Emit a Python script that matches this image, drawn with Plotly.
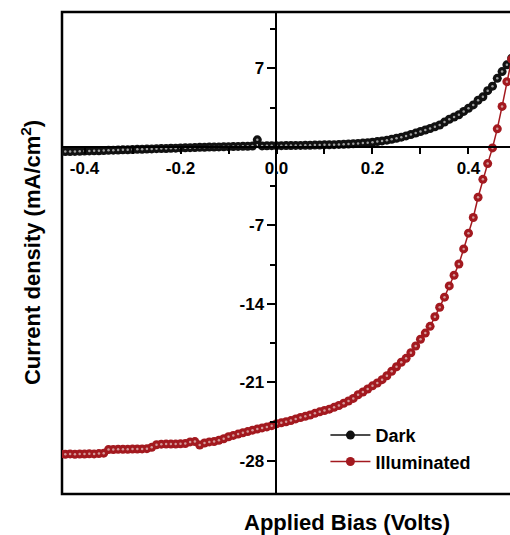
import plotly.graph_objects as go

# Applied bias (V), step 0.01 from -0.45 to 0.49
bias = [round(-0.45 + 0.01 * i, 2) for i in range(95)]

dark = [
    -0.44, -0.43, -0.42, -0.41, -0.40, -0.38, -0.37, -0.36, -0.35, -0.33,
    -0.32, -0.30, -0.29, -0.27, -0.26, -0.25, -0.23, -0.22, -0.20, -0.19,
    -0.17, -0.16, -0.15, -0.13, -0.12, -0.10, -0.09, -0.08, -0.06, -0.05,
    -0.04, -0.03, -0.02, -0.01, 0.00, 0.01, 0.02, 0.03, 0.04, 0.05,
    0.06, 0.62, 0.08, 0.09, 0.10, 0.10, 0.10, 0.11, 0.11, 0.12,
    0.12, 0.13, 0.14, 0.15, 0.16, 0.17, 0.18, 0.19, 0.21, 0.23,
    0.25, 0.27, 0.30, 0.33, 0.37, 0.41, 0.46, 0.52, 0.59, 0.67,
    0.76, 0.86, 0.97, 1.09, 1.22, 1.36, 1.50, 1.63, 1.78, 1.94,
    2.20, 2.45, 2.65, 2.85, 3.15, 3.43, 3.73, 4.15, 4.45, 5.00,
    5.40, 6.10, 6.70, 7.30, 7.90,
]

illuminated = [
    -27.38, -27.40, -27.37, -27.40, -27.38, -27.38, -27.36, -27.37, -27.34, -27.30,
    -26.98, -26.97, -26.96, -26.95, -26.96, -26.94, -26.93, -26.92, -26.90, -26.78,
    -26.55, -26.50, -26.49, -26.48, -26.49, -26.47, -26.45, -26.30, -26.27, -26.58,
    -26.40, -26.30, -26.26, -26.15, -26.02, -25.84, -25.72, -25.60, -25.48, -25.38,
    -25.25, -25.15, -25.05, -24.96, -24.85, -24.68, -24.60, -24.50, -24.40, -24.25,
    -24.12, -24.02, -23.90, -23.75, -23.62, -23.50, -23.38, -23.22, -23.05, -22.85,
    -22.65, -22.42, -22.10, -21.85, -21.58, -21.30, -21.05, -20.75, -20.40, -20.00,
    -19.60, -19.20, -18.85, -18.35, -17.75, -17.15, -16.60, -16.00, -15.15, -14.30,
    -13.40, -12.40, -11.45, -10.45, -9.10, -7.70, -6.30, -4.50, -2.90, -1.50,
    -0.10, 1.60, 3.60, 5.80, 7.80,
]

x_ticks = [-0.4, -0.2, 0.0, 0.2, 0.4]
x_labels = ["-0.4", "-0.2", "0.0", "0.2", "0.4"]
y_ticks = [7, -7, -14, -21, -28]
y_labels = ["7", "-7", "-14", "-21", "-28"]

X_RANGE = [-0.4469, 0.4865]
Y_RANGE = [-30.94, 12.01]

DARK_C = "#111111"
RED_C = "#a3191f"
FONT = "Arial, Liberation Sans, sans-serif"

fig = go.Figure()
fig.add_trace(go.Scatter(
    x=bias, y=dark, name="Dark", mode="lines+markers",
    line=dict(color=DARK_C, width=1.5),
    marker=dict(color=DARK_C, size=9, line=dict(width=0)),
))
fig.add_trace(go.Scatter(
    x=bias, y=dark, mode="markers", showlegend=False, hoverinfo="skip",
    marker=dict(color="#a0a0a0", size=2.5),
))
fig.add_trace(go.Scatter(
    x=bias, y=illuminated, name="Illuminated", mode="lines+markers",
    line=dict(color=RED_C, width=1.5),
    marker=dict(color=RED_C, size=9, line=dict(width=0)),
))
fig.add_trace(go.Scatter(
    x=bias, y=illuminated, mode="markers", showlegend=False, hoverinfo="skip",
    marker=dict(color="#d49a9a", size=2.5),
))

xpos = (0 - Y_RANGE[0]) / (Y_RANGE[1] - Y_RANGE[0])
ypos = (0 - X_RANGE[0]) / (X_RANGE[1] - X_RANGE[0])

tickfont = dict(family=FONT, size=17, color="black", weight="bold")

fig.update_layout(
    width=510, height=535,
    margin=dict(l=62, r=0, t=12, b=41),
    plot_bgcolor="white", paper_bgcolor="white",
    font=dict(family=FONT, color="black"),
    xaxis=dict(
        range=X_RANGE, anchor="free", position=xpos,
        showline=True, linecolor="black", linewidth=2,
        showgrid=False, zeroline=False,
        tickmode="array", tickvals=x_ticks, ticktext=x_labels,
        ticks="outside", ticklen=6, tickwidth=2, tickcolor="black",
        tickfont=tickfont,
        minor=dict(tickmode="linear", tick0=0, dtick=0.1, ticks="outside",
                   ticklen=6, tickwidth=2, tickcolor="black", showgrid=False),
    ),
    yaxis=dict(
        range=Y_RANGE, anchor="free", position=ypos,
        showline=True, linecolor="black", linewidth=2,
        showgrid=False, zeroline=False,
        tickmode="array", tickvals=y_ticks, ticktext=y_labels,
        ticks="outside", ticklen=8, tickwidth=2, tickcolor="black",
        tickfont=tickfont,
        minor=dict(tickmode="linear", tick0=0, dtick=3.5, ticks="outside",
                   ticklen=5, tickwidth=2, tickcolor="black", showgrid=False),
    ),
    legend=dict(
        x=0.588, y=0.16, xanchor="left", yanchor="top",
        bgcolor="rgba(0,0,0,0)", borderwidth=0,
        font=dict(family=FONT, size=18, color="black", weight="bold"),
        itemwidth=40,
    ),
    shapes=[dict(type="rect", xref="paper", yref="paper",
                 x0=0, x1=1.02, y0=0, y1=1,
                 line=dict(color="black", width=2.5), layer="below")],
    annotations=[
        dict(text="Applied Bias (Volts)", xref="paper", yref="paper",
             x=0.636, y=-0.06, xanchor="center", yanchor="middle", showarrow=False,
             font=dict(family=FONT, size=22, color="black", weight="bold")),
        dict(text="Current density (mA/cm<sup>2</sup>)", xref="paper", yref="paper",
             x=-0.069, y=0.5, xanchor="center", yanchor="middle", showarrow=False,
             textangle=-90,
             font=dict(family=FONT, size=22, color="black", weight="bold")),
    ],
)

fig.write_html("out.html", config={"displayModeBar": False},
               post_script="document.body.style.margin='0';")
